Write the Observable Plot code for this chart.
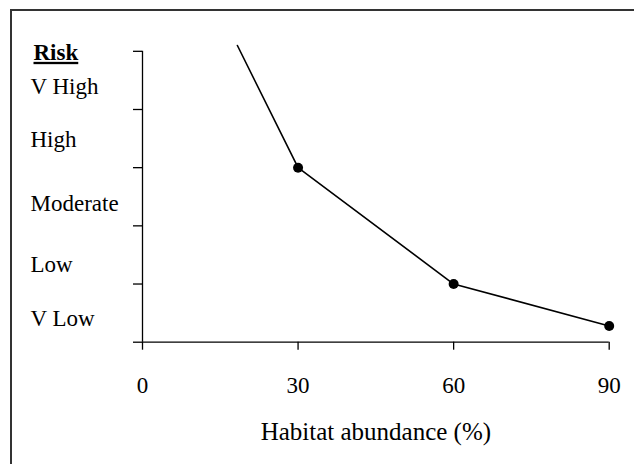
<!DOCTYPE html>
<html>
<head>
<meta charset="utf-8">
<script src="https://cdn.jsdelivr.net/npm/d3@7"></script>
<script src="https://cdn.jsdelivr.net/npm/@observablehq/plot@0.6"></script>
<style>
  html, body { margin: 0; padding: 0; background: #fff; }
  #wrap { position: relative; width: 634px; height: 464px; overflow: hidden; }
  #frame { position: absolute; left: 10px; top: 9px; width: 700px; height: 600px;
           border-top: 2px solid #333; border-left: 2px solid #333; }
  #chart { position: absolute; left: 0; top: 0; }
</style>
</head>
<body>
<div id="wrap"><div id="frame"></div><div id="chart"></div></div>
<script>
// Data
const habitat = [18.3, 30, 60, 90];          // Habitat abundance (%)
const risk    = [5.1, 3.0, 1.0, 0.28];       // Risk level
const marked  = [false, true, true, true];   // points drawn with a marker
const xTicks  = [0, 30, 60, 90];
const yTicks  = [0, 1, 2, 3, 4, 5];
const riskLabels = ["V High", "High", "Moderate", "Low", "V Low"];
const riskLevels = [4.40, 3.49, 2.39, 1.34, 0.40];
const riskTitle = "Risk";
const riskTitleLevel = 4.98;
const xTitle = "Habitat abundance (%)";

const series = habitat.map((h, i) => ({h, r: risk[i], m: marked[i]}));
const labels = riskLabels.map((t, i) => ({t, v: riskLevels[i]}));

const FONT = "'Liberation Serif', 'Times New Roman', serif";
const FS = 23;

const plot = Plot.plot({
  width: 634,
  height: 464,
  marginLeft: 142,
  marginRight: 25.3,
  marginTop: 45,
  marginBottom: 122.3,
  style: {fontFamily: FONT, fontSize: FS + "px", color: "#000", background: "transparent", overflow: "visible"},
  x: {domain: [0, 90]},
  y: {domain: [0, 5.1]},
  marks: [
    Plot.axisX({ticks: xTicks, tickSize: 8, tickPadding: 26.5, tickFormat: d => String(d),
                label: null, fontSize: FS, stroke: "#000", strokeWidth: 1.3}),
    Plot.axisY({ticks: yTicks, tickSize: 9, tickFormat: () => "", label: null,
                stroke: "#000", strokeWidth: 1.3}),
    Plot.ruleX([0], {y1: 0, y2: 5, stroke: "#000", strokeWidth: 1.3}),
    Plot.ruleY([0], {x1: 0, x2: 90, stroke: "#000", strokeWidth: 1.3}),
    Plot.line(series, {x: "h", y: "r", stroke: "#000", strokeWidth: 1.6}),
    Plot.dot(series.filter(d => d.m), {x: "h", y: "r", r: 5, fill: "#000", stroke: "none"}),
    Plot.text(labels, {y: "v", text: "t", frameAnchor: "left", textAnchor: "start", lineAnchor: "middle",
                       dx: -112, fontSize: FS, fill: "#000"}),
    Plot.text([riskTitle], {y: [riskTitleLevel], text: d => d, frameAnchor: "left", textAnchor: "start",
                       lineAnchor: "middle", dx: -109, fontSize: FS, fontWeight: "bold", fill: "#000",
                       className: "risk-title"}),
    Plot.text([xTitle], {text: d => d, frameAnchor: "bottom", lineAnchor: "middle", dy: 89.3,
                         fontSize: 25, fill: "#000"})
  ]
});

d3.select(plot).selectAll(".risk-title text").style("text-decoration", "underline");
document.getElementById("chart").appendChild(plot);
</script>
</body>
</html>
